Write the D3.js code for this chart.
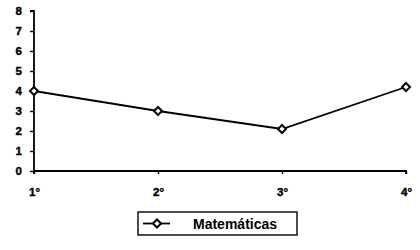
<!DOCTYPE html>
<html>
<head>
<meta charset="utf-8">
<script src="https://cdn.jsdelivr.net/npm/d3@7"></script>
<style>
	body { margin: 0; background: #fff; }
	svg text { font-family: "Liberation Sans", Arial, sans-serif; font-weight: bold; }
</style>
</head>
<body>
<svg id="chart" width="420" height="250"></svg>
<script>
const categories = ["1°", "2°", "3°", "4°"];
const values = [4.0, 3.0, 2.1, 4.2];
const yTicks = [0, 1, 2, 3, 4, 5, 6, 7, 8];
const seriesName = "Matemáticas";

const svg = d3.select("#chart");
const plotLeft = 34, plotRight = 406, plotTop = 11, plotBottom = 171;

const x = d3.scalePoint().domain(categories).range([plotLeft, plotRight]);
const y = d3.scaleLinear().domain([0, 8]).range([plotBottom, plotTop]);

// y axis
const yAxis = svg.append("g")
	.attr("transform", `translate(${plotLeft},0)`)
	.call(d3.axisLeft(y).tickValues(yTicks).tickSize(4).tickPadding(8).tickFormat(d3.format("d")));
yAxis.select(".domain").attr("stroke-width", 1.8).attr("d", `M-4,${plotTop}H0V${plotBottom + 3}`);
yAxis.selectAll("line").attr("stroke-width", 1.4);
yAxis.selectAll("text").attr("font-size", 11.5).attr("fill", "#000")
	.attr("stroke", "#000").attr("stroke-width", 0.4);

// x axis
const xAxis = svg.append("g")
	.attr("transform", `translate(0,${plotBottom})`)
	.call(d3.axisBottom(x).tickSize(3).tickPadding(14));
xAxis.select(".domain").attr("stroke-width", 1.8).attr("d", `M${plotLeft},0H${plotRight}V3`);
xAxis.selectAll("line").attr("stroke-width", 1.4);
xAxis.selectAll("text").attr("font-size", 11.5).attr("fill", "#000")
	.attr("stroke", "#000").attr("stroke-width", 0.4);

// series line
const line = d3.line().x((d, i) => x(categories[i])).y(d => y(d));
svg.append("path")
	.datum(values)
	.attr("fill", "none")
	.attr("stroke", "#000")
	.attr("stroke-width", 1.8)
	.attr("d", line);

const diamond = "M0,-4L4,0L0,4L-4,0Z";
svg.selectAll(".pt")
	.data(values)
	.enter().append("path")
	.attr("class", "pt")
	.attr("transform", (d, i) => `translate(${x(categories[i])},${y(d)})`)
	.attr("d", diamond)
	.attr("fill", "#fff")
	.attr("stroke", "#000")
	.attr("stroke-width", 2);

// legend
const lg = svg.append("g").attr("transform", "translate(138,212)");
lg.append("rect")
	.attr("width", 159).attr("height", 23)
	.attr("fill", "#fff").attr("stroke", "#000").attr("stroke-width", 1.4);
lg.append("line")
	.attr("x1", 5).attr("x2", 32).attr("y1", 11.5).attr("y2", 11.5)
	.attr("stroke", "#000").attr("stroke-width", 1.8);
lg.append("path")
	.attr("transform", "translate(19,11.5)")
	.attr("d", diamond)
	.attr("fill", "#fff").attr("stroke", "#000").attr("stroke-width", 2);
lg.append("text")
	.attr("x", 55).attr("y", 16.5)
	.attr("font-size", 14)
	.attr("fill", "#000")
	.text(seriesName);
</script>
</body>
</html>
